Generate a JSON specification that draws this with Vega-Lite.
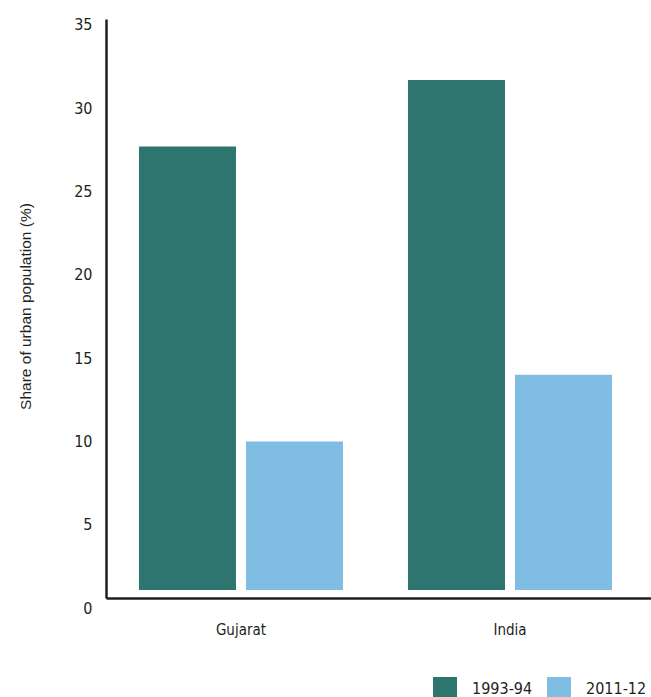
{
  "$schema": "https://vega.github.io/schema/vega-lite/v6.json",
  "autosize": "none",
  "width": 545,
  "height": 589,
  "padding": {"left": 106, "top": 19, "right": 0, "bottom": 89},
  "config": {
    "view": {"stroke": null},
    "font": "DejaVu Sans Condensed, DejaVu Sans, sans-serif"
  },
  "data": {
    "values": [
      {"region": "Gujarat", "year": "1993-94", "share": 27.7},
      {"region": "Gujarat", "year": "2011-12", "share": 10.0},
      {"region": "India", "year": "1993-94", "share": 31.7},
      {"region": "India", "year": "2011-12", "share": 14.0}
    ]
  },
  "mark": {"type": "bar"},
  "encoding": {
    "x": {
      "field": "region",
      "type": "nominal",
      "scale": {"paddingInner": 0.2416, "paddingOuter": 0.1338, "align": 0.458},
      "axis": {
        "title": null,
        "labelAngle": 0,
        "ticks": false,
        "offset": -10,
        "domainColor": "#231f20",
        "domainWidth": 2.5,
        "labelFontSize": 15,
        "labelColor": "#231f20",
        "labelPadding": 24
      }
    },
    "xOffset": {
      "field": "year",
      "type": "nominal",
      "scale": {"paddingInner": 0.0935, "paddingOuter": 0}
    },
    "y": {
      "field": "share",
      "type": "quantitative",
      "scale": {"domain": [0, 35.36], "nice": false},
      "axis": {
        "title": "Share of urban population (%)",
        "values": [0, 5, 10, 15, 20, 25, 30, 35],
        "grid": false,
        "ticks": false,
        "domainColor": "#231f20",
        "domainWidth": 2.5,
        "domainDash": [0, 10, 579],
        "labelFontSize": 16,
        "labelColor": "#231f20",
        "labelPadding": 14,
        "titleFont": "Liberation Sans",
        "titleFontSize": 15.5,
        "titleFontWeight": "normal",
        "titleColor": "#231f20",
        "titlePadding": 40,
        "titleY": 287
      }
    },
    "y2": {"datum": 1.08},
    "color": {
      "field": "year",
      "type": "nominal",
      "scale": {"domain": ["1993-94", "2011-12"], "range": ["#2e746f", "#80bde3"]},
      "legend": {
        "title": null,
        "orient": "none",
        "direction": "horizontal",
        "legendX": 327,
        "legendY": 658,
        "symbolType": "square",
        "symbolSize": 576,
        "symbolStrokeWidth": 0,
        "symbolOpacity": 1,
        "labelFontSize": 16,
        "labelColor": "#231f20",
        "labelOffset": 15,
        "columnPadding": 14
      }
    }
  }
}
